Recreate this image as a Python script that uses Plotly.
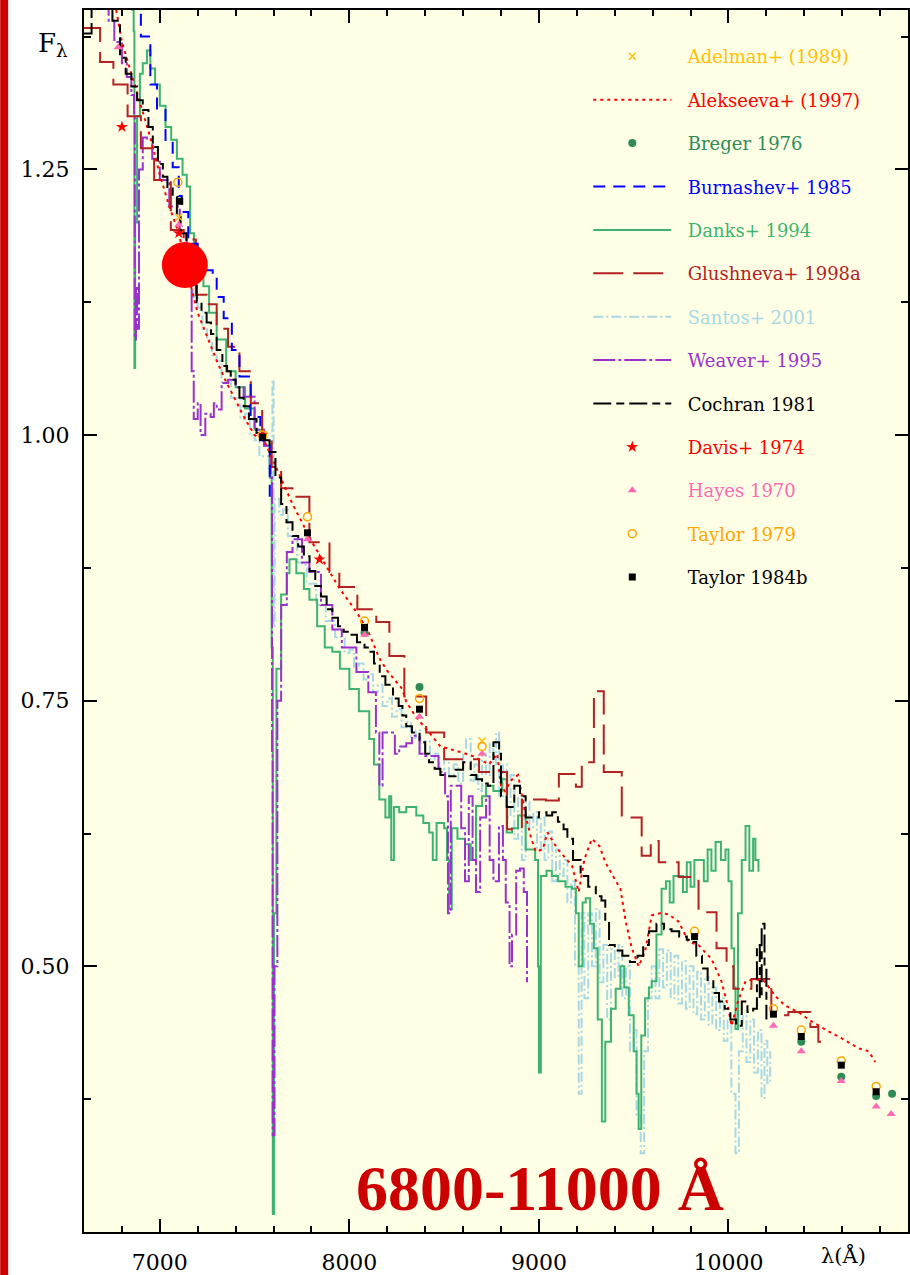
import plotly.graph_objects as go

# ---------------- data (wavelength in Angstrom, relative flux) ----------------
alekseeva = [(6770,1.40),(6800,1.37),(6850,1.34),(6900,1.31),(6950,1.28),(7000,1.245),(7050,1.215),(7100,1.19),
             (7150,1.15),(7200,1.115),(7268,1.085),(7300,1.07),(7350,1.05),(7400,1.032),(7450,1.015),(7500,1.0),
             (7550,0.995),(7600,0.975),(7650,0.955),(7700,0.935),(7750,0.918),(7800,0.90),(7850,0.885),(7900,0.87),
             (7950,0.855),(8000,0.843),(8050,0.83),(8100,0.815),(8158,0.79),(8200,0.778),(8279,0.761),(8300,0.749),
             (8350,0.735),(8421,0.72),(8480,0.707),(8579,0.702),(8650,0.698),(8737,0.69),(8780,0.70),(8800,0.67),
             (8820,0.665),(8858,0.676),(8890,0.68),(8932,0.64),(8960,0.62),(8984,0.608),(9020,0.61),(9045,0.626),
             (9100,0.61),(9174,0.595),(9210,0.57),(9240,0.601),(9279,0.62),(9320,0.613),(9350,0.598),(9400,0.582),
             (9430,0.573),(9458,0.542),(9490,0.517),(9526,0.50),(9560,0.514),(9595,0.548),(9640,0.55),(9684,0.549),
             (9737,0.542),(9790,0.523),(9842,0.52),(9910,0.507),(9963,0.486),(10000,0.46),(10016,0.444),(10050,0.467),
             (10090,0.486),(10140,0.488),(10190,0.486),(10247,0.472),(10300,0.463),(10368,0.457),(10440,0.448),
             (10526,0.439),(10600,0.432),(10684,0.423),(10740,0.42),(10774,0.41)]

burnashev = [(6870,1.41),(6900,1.375),(6950,1.33),(6985,1.306),(7030,1.275),(7068,1.252),(7100,1.225),(7116,1.21),
             (7150,1.18),(7200,1.16),(7240,1.155),(7279,1.149),(7300,1.13),(7337,1.11),(7380,1.08),(7420,1.055),
             (7479,1.017),(7530,0.995),(7580,0.94),(7600,0.94)]

danks = [(6850,1.40),(6862,1.38),(6866,1.063),(6870,1.20),(6880,1.30),(6895,1.34),(6910,1.35),(6932,1.362),(6950,1.345),
         (6975,1.33),(7000,1.31),(7030,1.29),(7060,1.278),(7090,1.26),(7120,1.245),(7142,1.234),(7160,1.19),(7180,1.17),
         (7200,1.15),(7230,1.14),(7260,1.115),(7300,1.09),(7350,1.06),(7400,1.045),(7450,1.025),(7500,1.005),(7550,0.99),
         (7580,0.96),(7590,0.80),(7596,0.267),(7602,0.55),(7615,0.78),(7640,0.85),(7670,0.87),(7684,0.883),(7720,0.87),
         (7760,0.855),(7789,0.845),(7830,0.82),(7870,0.80),(7910,0.796),(7950,0.78),(8000,0.761),(8050,0.74),(8105,0.714),
         (8130,0.69),(8158,0.657),(8190,0.64),(8210,0.66),(8221,0.60),(8235,0.65),(8263,0.645),(8300,0.65),(8353,0.642),
         (8390,0.635),(8421,0.626),(8440,0.60),(8460,0.635),(8500,0.63),(8515,0.60),(8526,0.554),(8540,0.63),(8570,0.62),
         (8610,0.615),(8640,0.60),(8668,0.651),(8700,0.66),(8721,0.67),(8760,0.665),(8805,0.676),(8830,0.626),(8858,0.63),
         (8890,0.642),(8930,0.61),(8980,0.60),(8995,0.50),(9000,0.40),(9010,0.585),(9040,0.59),(9068,0.585),(9100,0.58),
         (9140,0.575),(9174,0.573),(9195,0.55),(9210,0.50),(9230,0.56),(9247,0.564),(9270,0.54),(9290,0.517),(9310,0.45),
         (9332,0.354),(9350,0.429),(9380,0.46),(9405,0.479),(9430,0.50),(9450,0.48),(9474,0.454),(9500,0.42),(9515,0.38),
         (9526,0.347),(9540,0.435),(9560,0.47),(9580,0.48),(9595,0.486),(9620,0.53),(9647,0.573),(9670,0.58),(9690,0.56),
         (9710,0.585),(9737,0.585),(9760,0.57),(9780,0.598),(9800,0.575),(9820,0.60),(9842,0.60),(9870,0.58),(9890,0.61),
         (9910,0.59),(9932,0.617),(9960,0.60),(9984,0.61),(10000,0.58),(10016,0.517),(10030,0.48),(10037,0.441),
         (10050,0.55),(10070,0.60),(10090,0.632),(10110,0.59),(10130,0.62),(10142,0.60),(10158,0.589)]

glushneva = [(6600,1.383),(6685,1.351),(6755,1.33),(6830,1.30),(6900,1.27),(6970,1.24),(7058,1.193),(7126,1.184),
             (7190,1.132),(7247,1.123),(7300,1.10),(7360,1.083),(7420,1.06),(7480,1.03),(7540,1.00),(7590,0.97),
             (7640,0.95),(7700,0.942),(7789,0.899),(7895,0.871),(7947,0.857),(8042,0.836),(8142,0.824),(8211,0.792),
             (8290,0.754),(8405,0.72),(8500,0.695),(8684,0.683),(8832,0.629),(8910,0.657),(9037,0.656),(9105,0.681),
             (9195,0.669),(9226,0.692),(9290,0.759),(9342,0.683),(9437,0.64),(9542,0.604),(9590,0.618),(9632,0.598),
             (9737,0.584),(9842,0.551),(9937,0.517),(9990,0.50),(10026,0.479),(10121,0.488),(10226,0.454),(10316,0.457),
             (10432,0.443),(10474,0.429),(10537,0.429)]

santos = [(7150,1.15),(7175,1.13),(7200,1.12),(7225,1.10),(7250,1.09),(7275,1.075),(7300,1.07),(7325,1.05),(7350,1.05),
          (7375,1.035),(7400,1.035),(7425,1.015),(7450,1.02),(7475,1.0),(7500,0.995),(7525,0.98),(7550,0.98),(7575,0.965),
          (7588,0.96),(7594,1.052),(7600,0.82),(7606,0.94),(7630,0.925),(7650,0.93),(7675,0.905),(7700,0.90),(7725,0.88),
          (7750,0.878),(7775,0.86),(7800,0.86),(7825,0.84),(7850,0.84),(7875,0.825),(7900,0.825),(7925,0.81),(7950,0.81),
          (7975,0.795),(8000,0.798),(8025,0.78),(8050,0.785),(8075,0.77),(8100,0.775),(8125,0.758),(8150,0.765),
          (8175,0.745),(8200,0.752),(8225,0.735),(8250,0.742),(8275,0.725),(8300,0.73),(8325,0.715),(8350,0.722),
          (8375,0.705),(8400,0.712),(8425,0.695),(8450,0.70),(8475,0.685),(8500,0.695),(8525,0.68),(8550,0.69),
          (8575,0.672),(8600,0.70),(8616,0.714),(8640,0.675),(8660,0.69),(8680,0.665),(8700,0.70),(8720,0.68),
          (8740,0.71),(8760,0.69),(8774,0.72),(8790,0.66),(8810,0.69),(8830,0.64),(8850,0.68),(8870,0.62),(8890,0.66),
          (8910,0.60),(8930,0.655),(8950,0.63),(8970,0.645),(8990,0.61),(9010,0.64),(9030,0.60),(9050,0.627),(9070,0.58),
          (9090,0.61),(9110,0.585),(9130,0.60),(9150,0.56),(9170,0.58),(9190,0.50),(9210,0.38),(9225,0.55),(9240,0.47),
          (9260,0.55),(9280,0.50),(9300,0.554),(9320,0.485),(9340,0.52),(9360,0.45),(9380,0.516),(9400,0.49),
          (9420,0.52),(9440,0.47),(9460,0.50),(9480,0.42),(9500,0.44),(9515,0.36),(9537,0.324),(9555,0.42),(9575,0.47),
          (9595,0.50),(9615,0.47),(9635,0.516),(9655,0.48),(9675,0.515),(9695,0.47),(9715,0.51),(9735,0.465),
          (9755,0.505),(9775,0.46),(9795,0.50),(9815,0.455),(9835,0.495),(9855,0.45),(9875,0.49),(9895,0.445),
          (9915,0.48),(9935,0.44),(9955,0.47),(9975,0.43),(9995,0.45),(10015,0.38),(10037,0.324),(10055,0.42),
          (10075,0.454),(10095,0.41),(10115,0.45),(10135,0.40),(10155,0.44),(10174,0.376),(10190,0.43),(10205,0.39),
          (10220,0.42)]

weaver = [(6700,1.41),(6730,1.39),(6760,1.37),(6800,1.35),(6826,1.337),(6850,1.32),(6864,1.30),(6868,1.09),(6874,1.14),
          (6880,1.10),(6890,1.25),(6910,1.28),(6932,1.278),(6960,1.26),(7000,1.24),(7050,1.215),(7105,1.19),(7142,1.155),
          (7158,1.143),(7168,1.06),(7179,1.015),(7200,1.03),(7215,1.00),(7240,1.02),(7268,1.017),(7285,1.03),(7300,1.024),
          (7326,1.049),(7360,1.052),(7400,1.045),(7442,1.036),(7500,1.005),(7550,0.99),(7585,0.96),(7592,0.70),
          (7595,0.341),(7605,0.50),(7620,0.75),(7640,0.84),(7670,0.89),(7700,0.902),(7750,0.88),(7789,0.871),(7850,0.84),
          (7910,0.817),(7960,0.80),(8037,0.777),(8100,0.758),(8140,0.72),(8158,0.67),(8175,0.72),(8211,0.72),(8240,0.70),
          (8263,0.707),(8300,0.71),(8330,0.717),(8370,0.70),(8400,0.698),(8470,0.683),(8505,0.66),(8520,0.55),
          (8535,0.67),(8570,0.67),(8590,0.63),(8610,0.58),(8630,0.66),(8650,0.60),(8668,0.57),(8690,0.64),(8721,0.66),
          (8740,0.60),(8760,0.58),(8789,0.632),(8810,0.60),(8825,0.56),(8845,0.50),(8858,0.53),(8880,0.59),(8900,0.592),
          (8920,0.57),(8937,0.485)]

cochran = [(6600,1.378),(6640,1.41),(6750,1.39),(6790,1.355),(6820,1.34),(6850,1.328),(6880,1.315),(6910,1.306),
           (6940,1.29),(6963,1.271),(6990,1.255),(7016,1.243),(7040,1.232),(7068,1.224),(7090,1.205),(7110,1.19),
           (7140,1.17),(7170,1.15),(7195,1.125),(7220,1.115),(7247,1.106),(7270,1.095),(7300,1.08),(7330,1.065),
           (7355,1.06),(7374,1.052),(7400,1.045),(7420,1.035),(7442,1.027),(7470,1.015),(7510,1.002),(7545,0.995),
           (7579,0.984),(7610,0.96),(7640,0.935),(7668,0.918),(7700,0.905),(7730,0.895),(7760,0.886),(7790,0.872),
           (7820,0.858),(7850,0.848),(7880,0.836),(7910,0.828),(7940,0.82),(7970,0.815),(8000,0.812),(8040,0.805),
           (8080,0.80),(8105,0.796),(8130,0.785),(8160,0.773),(8190,0.765),(8230,0.752),(8260,0.745),(8280,0.736),
           (8300,0.726),(8330,0.72),(8370,0.711),(8400,0.70),(8420,0.692),(8450,0.686),(8480,0.68),(8520,0.679),
           (8560,0.685),(8600,0.692),(8640,0.68),(8670,0.676),(8700,0.672),(8730,0.67),(8760,0.711),(8790,0.70),
           (8800,0.66),(8830,0.65),(8870,0.67),(8900,0.66),(8930,0.64),(8960,0.64),(9000,0.645),(9040,0.642),
           (9070,0.645),(9100,0.636),(9130,0.629),(9150,0.62),(9180,0.60),(9220,0.585),(9260,0.575),(9300,0.566),
           (9330,0.562),(9350,0.542),(9370,0.52),(9400,0.515),(9440,0.51),(9480,0.504),(9520,0.51),(9550,0.52),
           (9580,0.533),(9620,0.54),(9660,0.535),(9700,0.533),(9740,0.528),(9780,0.525),(9805,0.523),(9830,0.51),
           (9860,0.498),(9890,0.486),(9920,0.475),(9950,0.467),(9980,0.46),(10010,0.45),(10040,0.444),(10070,0.467),
           (10100,0.457),(10130,0.46),(10150,0.52),(10165,0.47),(10175,0.54),(10190,0.50),(10200,0.45)]

adelman = [(7100,1.205),(7550,1.0),(8700,0.712)]
breger = [(8080,0.814),(8370,0.763),(10384,0.429),(10595,0.396),(10779,0.378),(10863,0.38)]
davis = [(6800,1.29),(7100,1.19),(7540,1.0),(7842,0.883)]
hayes = [(6780,1.365),(7100,1.198),(7779,0.902),(8080,0.812),(8370,0.735),(8700,0.70),(10237,0.444),(10384,0.42),
         (10595,0.392),(10779,0.368),(10858,0.361)]
taylor79 = [(7095,1.238),(7540,1.0),(7779,0.923),(8080,0.825),(8370,0.752),(8700,0.707),(9821,0.533),(10237,0.46),
            (10384,0.44),(10595,0.411),(10779,0.387)]
taylor84 = [(7105,1.22),(7542,0.998),(7779,0.908),(8080,0.819),(8370,0.742),(9821,0.528),(10237,0.455),(10384,0.434),
            (10595,0.407),(10779,0.382)]

highlight = [(7132, 1.160)]

x_ticks = [7000, 8000, 9000, 10000]
y_ticks = [0.50, 0.75, 1.00, 1.25]


def xs(p):
    return [a for a, b in p]


def ys(p):
    return [b for a, b in p]


def lbl(text, color):
    return f'<span style="color:{color}">&nbsp;&nbsp;{text}</span>'


fig = go.Figure()

line_series = [
    # data, name, color, dash, shape, legendrank
    (santos, "Santos+ 2001", "#A8D8E4", "10px,3px,2px,3px", "hv", 7),
    (danks, "Danks+ 1994", "#3CB371", "solid", "hv", 5),
    (weaver, "Weaver+ 1995", "#9932CC", "22px,3px,3px,3px", "hv", 8),
    (glushneva, "Glushneva+ 1998a", "#B22222", "30px,10px", "hv", 6),
    (burnashev, "Burnashev+ 1985", "#0000FF", "12px,8px", "hv", 4),
    (alekseeva, "Alekseeva+ (1997)", "#FF0000", "3px,4px", "linear", 2),
    (cochran, "Cochran 1981", "#000000", "18px,5px,8px,5px", "hv", 9),
]
for data, name, color, dash, shape, rank in line_series:
    fig.add_trace(go.Scatter(
        x=xs(data), y=ys(data), mode="lines", name=lbl(name, color),
        line=dict(color=color, width=2, dash=dash, shape=shape),
        legendrank=rank, legendgroup=name, hoverinfo="skip"))

marker_series = [
    (adelman, "Adelman+ (1989)", "#FFC000", "x-thin", 7, 1),
    (breger, "Breger 1976", "#2E8B57", "circle", 8, 3),
    (davis, "Davis+ 1974", "#FF0000", "star", 9, 10),
    (hayes, "Hayes 1970", "#FF69B4", "triangle-up", 8, 11),
    (taylor79, "Taylor 1979", "#FFA500", "circle-open", 8, 12),
    (taylor84, "Taylor 1984b", "#000000", "square", 7, 13),
]
for data, name, color, sym, size, rank in marker_series:
    fig.add_trace(go.Scatter(
        x=xs(data), y=ys(data), mode="markers", name=lbl(name, color),
        marker=dict(color=color, symbol=sym, size=size,
                    line=dict(color=color, width=1.5 if "open" in sym or "thin" in sym else 0)),
        legendrank=rank, legendgroup=name, hoverinfo="skip"))

fig.add_trace(go.Scatter(x=xs(highlight), y=ys(highlight), mode="markers",
                         marker=dict(color="#FF0000", size=46, line=dict(width=0)),
                         showlegend=False, hoverinfo="skip"))

axis_font = dict(family="DejaVu Serif", size=22, color="#000000")

fig.update_layout(
    width=910, height=1275,
    margin=dict(l=84, r=0, t=10, b=43),
    paper_bgcolor="#FFFFFF",
    plot_bgcolor="#FFFFE6",
    showlegend=True,
    legend=dict(x=0.612, y=0.977, xanchor="left", yanchor="top",
                bgcolor="rgba(0,0,0,0)", borderwidth=0,
                font=dict(family="DejaVu Serif", size=18),
                itemwidth=78, tracegroupgap=17, itemclick=False),
    xaxis=dict(range=[6600, 10947], tickvals=x_ticks, tickformat="d",
               ticks="inside", ticklen=13, tickwidth=1.5, tickcolor="#000000",
               minor=dict(dtick=200, tick0=6600, ticks="inside", ticklen=6, tickwidth=1.5, tickcolor="#000000"),
               showline=True, linecolor="#000000", linewidth=2, mirror="allticks",
               showgrid=False, zeroline=False, tickfont=axis_font, ticklabelstandoff=10),
    yaxis=dict(range=[0.25, 1.40], tickvals=y_ticks, tickformat=".2f",
               ticks="inside", ticklen=13, tickwidth=1.5, tickcolor="#000000",
               minor=dict(dtick=0.125, tick0=0.25, ticks="inside", ticklen=7, tickwidth=1.5, tickcolor="#000000"),
               showline=True, linecolor="#000000", linewidth=2, mirror="allticks",
               showgrid=False, zeroline=False, tickfont=axis_font, ticklabelstandoff=8),
    annotations=[
        dict(text="F<sub>λ</sub>", xref="paper", yref="paper", x=-0.038, y=0.972,
             xanchor="center", yanchor="middle",
             showarrow=False, font=dict(family="DejaVu Serif", size=26, color="#000000")),
        dict(text="λ(Å)", xref="x", yref="paper", x=10605, y=-0.019, xanchor="center", yanchor="middle",
             showarrow=False, font=dict(family="DejaVu Serif", size=21, color="#000000")),
        dict(text="<b>6800-11000 Å</b>", xref="x", yref="y", x=9005, y=0.291,
             xanchor="center", yanchor="middle", showarrow=False,
             font=dict(family="Liberation Serif", size=64, color="#CC0000")),
    ],
    shapes=[
        dict(type="rect", xref="paper", yref="paper", x0=-0.1017, x1=-0.0920, y0=-0.04, y1=1.01,
             fillcolor="#CC0000", line=dict(width=0), layer="above"),
    ],
)

fig.write_html("out.html")
